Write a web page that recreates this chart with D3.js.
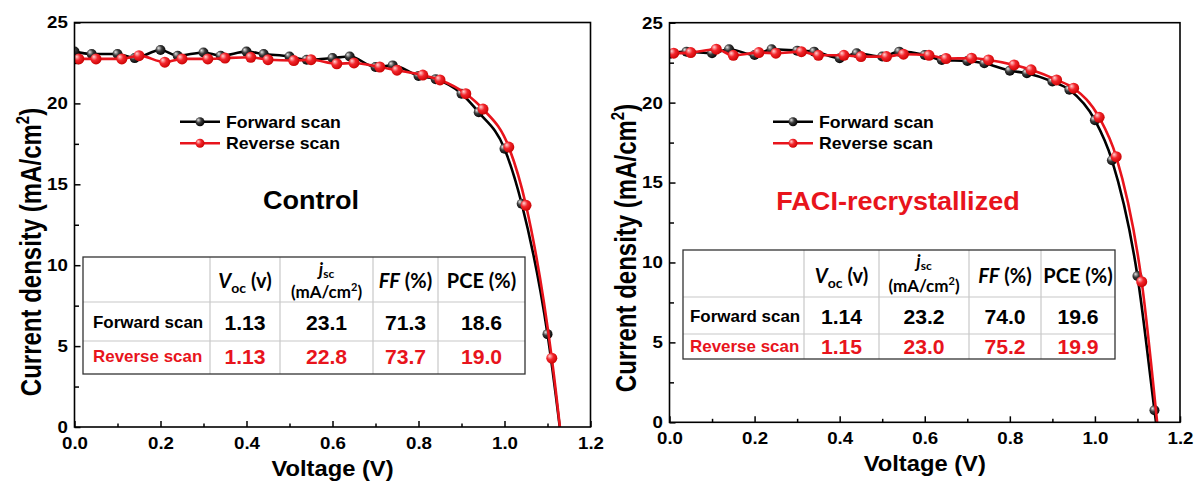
<!DOCTYPE html>
<html><head><meta charset="utf-8">
<script src="https://cdn.jsdelivr.net/npm/d3@7"></script>
<style>body{margin:0;background:#fff}svg{display:block}</style>
</head><body>
<svg id="c" width="1195" height="488"></svg>
<script>
// ---------- data ----------
const xTicks = [0, 0.2, 0.4, 0.6, 0.8, 1.0, 1.2];
const xTickLabels = ["0.0", "0.2", "0.4", "0.6", "0.8", "1.0", "1.2"];
const yTicks = [0, 5, 10, 15, 20, 25];
const yTickLabels = ["0", "5", "10", "15", "20", "25"];
const seriesNames = ["Forward scan", "Reverse scan"];
const panelTitles = ["Control", "FACI-recrystallized"];

const ctrlForwardV = [0, 0.04, 0.10, 0.14, 0.20, 0.24, 0.30, 0.34, 0.40, 0.44, 0.50, 0.54, 0.60, 0.64, 0.70, 0.74, 0.80, 0.84, 0.90, 0.94, 1.00, 1.04, 1.10, 1.14];
const ctrlForwardJ = [23.2, 23.05, 23.05, 22.8, 23.3, 22.95, 23.15, 22.95, 23.2, 23.05, 22.9, 22.7, 22.8, 22.9, 22.25, 22.35, 21.7, 21.5, 20.6, 19.45, 17.2, 13.8, 5.74, -2.5];
const ctrlReverseV = [0.01, 0.05, 0.11, 0.15, 0.21, 0.25, 0.31, 0.35, 0.41, 0.45, 0.51, 0.55, 0.61, 0.65, 0.71, 0.75, 0.81, 0.85, 0.91, 0.95, 1.01, 1.05, 1.11, 1.15];
const ctrlReverseJ = [22.75, 22.75, 22.75, 22.95, 22.55, 22.75, 22.75, 22.8, 22.85, 22.7, 22.65, 22.7, 22.45, 22.5, 22.25, 22.05, 21.75, 21.45, 20.6, 19.65, 17.3, 13.7, 4.25, -5.2];

const faciForwardV = [0, 0.04, 0.10, 0.14, 0.20, 0.24, 0.30, 0.34, 0.40, 0.44, 0.50, 0.54, 0.60, 0.64, 0.70, 0.74, 0.80, 0.84, 0.90, 0.94, 1.00, 1.04, 1.10, 1.14, 1.18];
const faciForwardJ = [23.05, 23.19, 23.09, 23.34, 22.98, 23.34, 23.25, 23.19, 22.78, 23.09, 22.88, 23.19, 22.98, 22.67, 22.6, 22.46, 22.0, 21.84, 21.32, 20.8, 18.9, 16.4, 9.15, 0.75, -7.6];
const faciReverseV = [0.01, 0.05, 0.11, 0.15, 0.21, 0.25, 0.31, 0.35, 0.41, 0.45, 0.51, 0.55, 0.61, 0.65, 0.71, 0.75, 0.81, 0.85, 0.91, 0.95, 1.01, 1.05, 1.11, 1.15];
const faciReverseJ = [23.09, 23.13, 23.34, 22.96, 23.13, 23.09, 23.19, 22.96, 22.96, 22.88, 22.88, 23.03, 22.96, 22.76, 22.78, 22.67, 22.36, 22.05, 21.42, 20.9, 19.08, 16.62, 8.8, -1.0];

const tableRowLabels = ["Forward scan", "Reverse scan"];
const ctrlTable = [["1.13", "23.1", "71.3", "18.6"], ["1.13", "22.8", "73.7", "19.0"]];
const faciTable = [["1.14", "23.2", "74.0", "19.6"], ["1.15", "23.0", "75.2", "19.9"]];

// ---------- style ----------
const RED = "#e8141c";
const ARIAL = "'Liberation Sans', Arial, sans-serif";
const CALIBRI = "Lato, 'Open Sans', sans-serif";

const svg = d3.select("#c");
const defs = svg.append("defs");
function grad(id, c0, c1, c2) {
  const g = defs.append("radialGradient").attr("id", id)
    .attr("cx", "40%").attr("cy", "40%").attr("r", "65%").attr("fx", "30%").attr("fy", "30%");
  g.append("stop").attr("offset", "0%").attr("stop-color", c0);
  g.append("stop").attr("offset", "45%").attr("stop-color", c1);
  g.append("stop").attr("offset", "100%").attr("stop-color", c2);
}
grad("gBlk", "#e6e6e6", "#3a3a3a", "#000");
grad("gRed", "#ffd4d4", "#f3262c", "#c80000");

const panels = [
  { key: "ctrl", fV: ctrlForwardV, fJ: ctrlForwardJ, rV: ctrlReverseV, rJ: ctrlReverseJ, tab: ctrlTable,
    x0: 74.5, x1: 590.5, yb: 427, yt: 22.5, title: panelTitles[0], titleColor: "#000", titleX: 311, titleY: 209,
    legX: 180, legY: [121.7, 143.3], yTitleX: 41, yTitleY: 252, xTitleY: 476,
    t: { left: 83, right: 525, top: 257, h1: 302, h2: 341, bottom: 374, cols: [210, 280, 373, 438], labelX: 93, rowY: [322.5, 356.5], headBase: 288, jsc1: 276, jsc2: 298 } },
  { key: "faci", fV: faciForwardV, fJ: faciForwardJ, rV: faciReverseV, rJ: faciReverseJ, tab: faciTable,
    x0: 669.5, x1: 1180, yb: 422.3, yt: 22.7, title: panelTitles[1], titleColor: RED, titleX: 898, titleY: 210,
    legX: 773, legY: [121.7, 143.3], yTitleX: 636, yTitleY: 248, xTitleY: 471,
    t: { left: 683, right: 1115, top: 250, h1: 297, h2: 334, bottom: 359, cols: [804, 879, 969, 1041], labelX: 690, rowY: [316, 346], headBase: 283, jsc1: 268, jsc2: 292 } }
];

function drawPanel(p) {
  const g = svg.append("g");
  const x = d3.scaleLinear().domain([0, 1.2]).range([p.x0, p.x1]);
  const y = d3.scaleLinear().domain([0, 25]).range([p.yb, p.yt]);
  const xMinor = d3.range(0.1, 1.2, 0.2);
  const yMinor = d3.range(2.5, 25, 5);

  const styleAxis = s => {
    s.select(".domain").remove();
    s.selectAll("line").attr("stroke", "#000").attr("stroke-width", 1.5);
    s.selectAll("text").attr("font-family", ARIAL).attr("font-weight", "bold").attr("font-size", 17).attr("fill", "#000");
  };
  g.append("g").attr("transform", `translate(0,${p.yb})`)
    .call(d3.axisBottom(x).tickValues(xMinor).tickSize(-3.5).tickFormat("")).call(styleAxis);
  const xa = g.append("g").attr("transform", `translate(0,${p.yb})`)
    .call(d3.axisBottom(x).tickValues(xTicks).tickSize(-6).tickPadding(10).tickFormat((d, i) => xTickLabels[i])).call(styleAxis);
  xa.selectAll("text").attr("transform", "scale(1.1,1)");
  g.append("g").attr("transform", `translate(${p.x0},0)`)
    .call(d3.axisLeft(y).tickValues(yMinor).tickSize(-4.5).tickFormat("")).call(styleAxis);
  const ya = g.append("g").attr("transform", `translate(${p.x0},0)`)
    .call(d3.axisLeft(y).tickValues(yTicks).tickSize(-6).tickPadding(6).tickFormat((d, i) => yTickLabels[i])).call(styleAxis);
  ya.selectAll("text").attr("transform", "scale(1.1,1)");

  const cid = "clip-" + p.key;
  defs.append("clipPath").attr("id", cid).append("rect")
    .attr("x", p.x0).attr("y", p.yt).attr("width", p.x1 - p.x0).attr("height", p.yb - p.yt);

  const plot = g.append("g").attr("clip-path", `url(#${cid})`);
  const line = d3.line().x(d => x(d[0])).y(d => y(d[1])).curve(d3.curveMonotoneX);
  const fwd = p.fV.map((v, i) => [v, p.fJ[i]]);
  const rev = p.rV.map((v, i) => [v, p.rJ[i]]);
  plot.append("path").datum(fwd).attr("d", line).attr("fill", "none").attr("stroke", "#000").attr("stroke-width", 2.6);
  plot.selectAll(".mf").data(fwd).join("circle").attr("cx", d => x(d[0])).attr("cy", d => y(d[1])).attr("r", 5)
    .attr("fill", "url(#gBlk)");
  plot.append("path").datum(rev).attr("d", line).attr("fill", "none").attr("stroke", RED).attr("stroke-width", 2.6);
  plot.selectAll(".mr").data(rev).join("circle").attr("cx", d => x(d[0])).attr("cy", d => y(d[1])).attr("r", 5.5)
    .attr("fill", "url(#gRed)");

  g.append("rect").attr("x", p.x0).attr("y", p.yt).attr("width", p.x1 - p.x0).attr("height", p.yb - p.yt)
    .attr("fill", "none").attr("stroke", "#000").attr("stroke-width", 1.6);

  g.append("text").attr("transform", `translate(${(p.x0 + p.x1) / 2},${p.xTitleY}) scale(1.08,1)`)
    .attr("text-anchor", "middle").attr("font-family", ARIAL).attr("font-weight", "bold").attr("font-size", 22)
    .text("Voltage (V)");
  const yt = g.append("text").attr("transform", `translate(${p.yTitleX},${p.yTitleY}) scale(1.22,1) rotate(-90)`)
    .attr("text-anchor", "middle").attr("font-family", ARIAL).attr("font-weight", "bold").attr("font-size", 24);
  yt.append("tspan").text("Current density (mA/cm");
  yt.append("tspan").attr("font-size", 15).attr("dy", -10).text("2");
  yt.append("tspan").attr("dy", 10).text(")");

  const colors = ["#000", RED];
  const grads = ["url(#gBlk)", "url(#gRed)"];
  seriesNames.forEach((nm, i) => {
    const ly = p.legY[i];
    g.append("line").attr("x1", p.legX).attr("x2", p.legX + 40).attr("y1", ly).attr("y2", ly)
      .attr("stroke", colors[i]).attr("stroke-width", 2.6);
    g.append("circle").attr("cx", p.legX + 20).attr("cy", ly).attr("r", 4.5).attr("fill", grads[i]);
    g.append("text").attr("transform", `translate(${p.legX + 46},${ly + 6}) scale(1.04,1)`)
      .attr("font-family", ARIAL).attr("font-weight", "bold").attr("font-size", 17).attr("fill", "#000").text(nm);
  });

  g.append("text").attr("transform", `translate(${p.titleX},${p.titleY}) scale(1.04,1)`)
    .attr("text-anchor", "middle").attr("font-family", ARIAL).attr("font-weight", "bold").attr("font-size", 26)
    .attr("fill", p.titleColor).text(p.title);

  const t = p.t;
  const tg = g.append("g");
  tg.append("rect").attr("x", t.left).attr("y", t.top).attr("width", t.right - t.left).attr("height", t.bottom - t.top)
    .attr("fill", "#fff");
  [t.h1, t.h2].forEach(yy => tg.append("line").attr("x1", t.left).attr("x2", t.right).attr("y1", yy).attr("y2", yy)
    .attr("stroke", "#c8c8c8").attr("stroke-width", 1.2));
  t.cols.forEach(xx => tg.append("line").attr("x1", xx).attr("x2", xx).attr("y1", t.top).attr("y2", t.bottom)
    .attr("stroke", "#c8c8c8").attr("stroke-width", 1.2));
  tg.append("rect").attr("x", t.left).attr("y", t.top).attr("width", t.right - t.left).attr("height", t.bottom - t.top)
    .attr("fill", "none").attr("stroke", "#333").attr("stroke-width", 1.3);
  const edges = [...t.cols, t.right];
  const cx = i => (edges[i] + edges[i + 1]) / 2;
  const hdr = (xx, yy, fs) => tg.append("text").attr("x", xx).attr("y", yy).attr("text-anchor", "middle")
    .attr("font-family", CALIBRI).attr("font-weight", "bold").attr("font-size", fs || 20).attr("fill", "#000");
  let h = hdr(cx(0), t.headBase);
  h.append("tspan").attr("font-style", "italic").text("V");
  h.append("tspan").attr("font-size", 14).attr("dy", 5).text("oc");
  h.append("tspan").attr("dy", -5).text(" (v)");
  h = hdr(cx(1), t.jsc1, 18);
  h.append("tspan").attr("font-style", "italic").text("j");
  h.append("tspan").attr("font-size", 12).attr("dy", 2).text("sc");
  h = hdr(cx(1), t.jsc2, 17);
  h.append("tspan").text("(mA/cm");
  h.append("tspan").attr("font-size", 11).attr("dy", -7).text("2");
  h.append("tspan").attr("dy", 7).text(")");
  h = hdr(cx(2), t.headBase);
  h.append("tspan").attr("font-style", "italic").text("FF");
  h.append("tspan").text(" (%)");
  hdr(cx(3), t.headBase).text("PCE (%)");

  tableRowLabels.forEach((lab, r) => {
    const col = r === 0 ? "#000" : RED;
    tg.append("text").attr("transform", `translate(${t.labelX},${t.rowY[r] + 5.5}) scale(1.06,1)`)
      .attr("font-family", ARIAL).attr("font-weight", "bold").attr("font-size", 16).attr("fill", col).text(lab);
    p.tab[r].forEach((v, c) => {
      tg.append("text").attr("transform", `translate(${cx(c)},${t.rowY[r] + 7.5}) scale(1.06,1)`)
        .attr("text-anchor", "middle").attr("font-family", ARIAL).attr("font-weight", "bold").attr("font-size", 20)
        .attr("fill", col).text(v);
    });
  });
}
panels.forEach(drawPanel);
</script>
</body></html>
